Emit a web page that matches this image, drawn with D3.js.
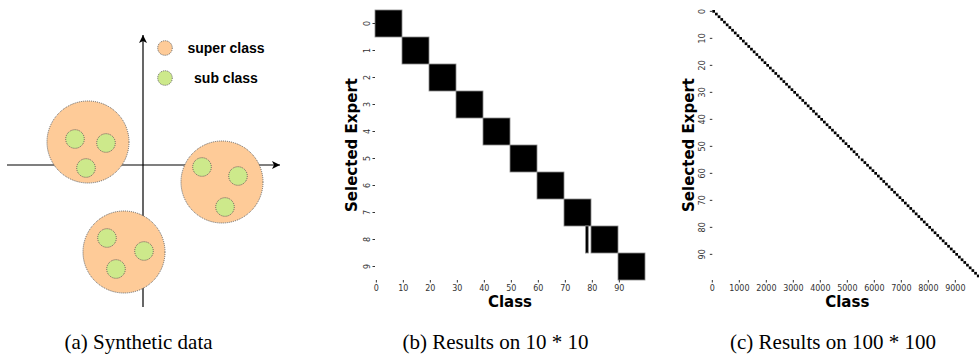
<!DOCTYPE html>
<html>
<head>
<meta charset="utf-8">
<script src="https://cdn.jsdelivr.net/npm/d3@7"></script>
<style>
  body { margin: 0; background: #fff; }
  svg { display: block; }
  .tick text { font-family: "DejaVu Sans", sans-serif; font-size: 8px; fill: #333; }
  .tick line { stroke: #333; }
  .axlabel { font-family: "DejaVu Sans", sans-serif; font-weight: bold; font-size: 15px; fill: #000; }
  .caption { font-family: "Liberation Serif", "Times New Roman", serif; font-size: 21px; fill: #000; }
</style>
</head>
<body>
<svg width="979" height="356"></svg>
<script>
// (a) synthetic data, diagram units (origin = axes crossing, y up)
const superCenters = [[-55, 23], [79, -17], [-19, -87]];
const subCenters = [
  [-68, 26], [-37, 22], [-57, -3],
  [59, -2], [95, -11], [82, -42],
  [-36, -73], [1, -86], [-27, -104]
];
const legendItems = ["super class", "sub class"];

// (b) 10 experts x 100 classes: [expert, firstClass, lastClass]
const experts10 = [0, 1, 2, 3, 4, 5, 6, 7, 8, 9];
const blocks10 = [
  [0, 0, 9], [1, 10, 19], [2, 20, 29], [3, 30, 39], [4, 40, 49],
  [5, 50, 59], [6, 60, 69], [7, 70, 79], [8, 78, 78], [8, 80, 89], [9, 90, 99]
];
const xTicks10 = [0, 10, 20, 30, 40, 50, 60, 70, 80, 90];

// (c) 100 experts x 10000 classes: first class of each expert's block
const rowStart100 = [
  0, 100, 200, 300, 400, 500, 600, 700, 800, 900,
  1000, 1100, 1200, 1300, 1400, 1500, 1600, 1700, 1800, 1900,
  2000, 2100, 2200, 2300, 2400, 2500, 2600, 2700, 2800, 2900,
  3000, 3100, 3200, 3300, 3400, 3500, 3600, 3700, 3800, 3900,
  4000, 4100, 4200, 4300, 4400, 4500, 4600, 4700, 4800, 4900,
  5000, 5100, 5200, 5300, 5400, 5500, 5600, 5700, 5800, 5900,
  6000, 6100, 6200, 6300, 6400, 6500, 6600, 6700, 6800, 6900,
  7000, 7100, 7200, 7300, 7400, 7500, 7600, 7700, 7800, 7900,
  8000, 8100, 8200, 8300, 8400, 8500, 8600, 8700, 8800, 8900,
  9000, 9100, 9200, 9300, 9400, 9500, 9600, 9700, 9800, 9900
];
const rowEnd100 = rowStart100.map((s, i) => i === 54 ? 5460 : s + 99);
const yTicks100 = [0, 10, 20, 30, 40, 50, 60, 70, 80, 90];
const xTicks100 = [0, 1000, 2000, 3000, 4000, 5000, 6000, 7000, 8000, 9000];

const captions = ["(a) Synthetic data", "(b) Results on 10 * 10", "(c) Results on 100 * 100"];

const svg = d3.select("svg");

// ---------- panel (a)
const ax = d3.scaleLinear().domain([-136, 137]).range([7, 280]);
const ay = d3.scaleLinear().domain([-142, 130]).range([307, 35]);
const pa = svg.append("g");

const defs = svg.append("defs");
defs.append("marker")
  .attr("id", "arrow")
  .attr("viewBox", "0 0 10 10")
  .attr("refX", 10).attr("refY", 5)
  .attr("markerWidth", 8).attr("markerHeight", 8)
  .attr("markerUnits", "userSpaceOnUse")
  .attr("orient", "auto")
  .append("path").attr("d", "M0,0 L10,5 L0,10 L2.5,5 z").attr("fill", "#000");

pa.append("line")
  .attr("x1", ax(-136)).attr("y1", ay(0)).attr("x2", ax(137)).attr("y2", ay(0))
  .attr("stroke", "#000").attr("stroke-width", 1.2).attr("marker-end", "url(#arrow)");
pa.append("line")
  .attr("x1", ax(0)).attr("y1", ay(-142)).attr("x2", ax(0)).attr("y2", ay(130))
  .attr("stroke", "#000").attr("stroke-width", 1.2).attr("marker-end", "url(#arrow)");

const superFill = "#fecb98", subFill = "#cde98b";
pa.selectAll(".super").data(superCenters).enter().append("circle")
  .attr("class", "super")
  .attr("cx", d => ax(d[0])).attr("cy", d => ay(d[1])).attr("r", 41)
  .attr("fill", superFill).attr("stroke", "#555").attr("stroke-width", 0.9)
  .attr("stroke-dasharray", "1,1");
pa.selectAll(".sub").data(subCenters).enter().append("circle")
  .attr("class", "sub")
  .attr("cx", d => ax(d[0])).attr("cy", d => ay(d[1])).attr("r", 9.3)
  .attr("fill", subFill).attr("stroke", "#555").attr("stroke-width", 0.9)
  .attr("stroke-dasharray", "1,1");

const leg = pa.selectAll(".leg").data(legendItems).enter().append("g")
  .attr("transform", (d, i) => "translate(0," + (48 + i * 30) + ")");
leg.append("circle")
  .attr("cx", 165).attr("r", 7.3)
  .attr("fill", (d, i) => i === 0 ? superFill : subFill)
  .attr("stroke", "#555").attr("stroke-width", 0.9).attr("stroke-dasharray", "1,1");
leg.append("text")
  .attr("x", 226).attr("y", 5)
  .attr("text-anchor", "middle")
  .style("font-family", "'Liberation Sans', Arial, sans-serif")
  .style("font-weight", "bold").style("font-size", "14px")
  .text(d => d);

// ---------- heatmap helper
function heatmap(opts) {
  const g = svg.append("g");
  const x = d3.scaleLinear().domain([0, opts.nClass]).range([opts.left, opts.left + 270]);
  const y = d3.scaleBand().domain(d3.range(opts.nExpert)).range([10, 280]);

  g.selectAll("rect").data(opts.blocks).enter().append("rect")
    .attr("x", d => x(d[1]))
    .attr("y", d => y(d[0]))
    .attr("width", d => x(d[2] + 1) - x(d[1]))
    .attr("height", y.bandwidth())
    .attr("fill", "#000")
    .attr("stroke", opts.edge ? "#888" : "none")
    .attr("stroke-width", opts.edge ? 0.8 : 0);

  const xa = g.append("g")
    .attr("transform", "translate(0,280)")
    .call(d3.axisBottom(x).tickValues(opts.xTicks).tickSize(2.5).tickPadding(2.5)
      .tickFormat(d3.format("d")));
  xa.selectAll(".tick").attr("transform", d => "translate(" + x(d + 0.5) + ",0)");
  xa.select(".domain").remove();

  const ya = g.append("g")
    .attr("transform", "translate(" + opts.left + ",0)")
    .call(d3.axisLeft(y).tickValues(opts.yTicks).tickSize(2.5));
  ya.select(".domain").remove();
  ya.selectAll(".tick text")
    .attr("x", 0).attr("dy", null)
    .attr("y", -opts.yLabelOffset)
    .attr("text-anchor", "middle")
    .attr("dominant-baseline", "central")
    .attr("transform", "rotate(-90)");

  g.append("text").attr("class", "axlabel")
    .attr("x", opts.left + 135).attr("y", 307)
    .attr("text-anchor", "middle").text("Class");
  g.append("text").attr("class", "axlabel")
    .attr("transform", "translate(" + opts.ylabX + ",145) rotate(-90)")
    .attr("text-anchor", "middle").attr("dominant-baseline", "central")
    .text("Selected Expert");
}

// ---------- panel (b)
heatmap({
  left: 375, nClass: 100, nExpert: 10,
  blocks: blocks10, xTicks: xTicks10, yTicks: experts10,
  yLabelOffset: 7.3, ylabX: 352, edge: true
});

// ---------- panel (c)
heatmap({
  left: 712.3, nClass: 10000, nExpert: 100,
  blocks: rowStart100.map((s, i) => [i, s, rowEnd100[i]]),
  xTicks: xTicks100, yTicks: yTicks100,
  yLabelOffset: 9.6, ylabX: 689, edge: false
});

// ---------- captions
svg.selectAll(".caption").data(captions).enter().append("text")
  .attr("class", "caption")
  .attr("x", (d, i) => [138.5, 495.5, 833][i])
  .attr("y", 349)
  .attr("text-anchor", "middle")
  .text(d => d);
</script>
</body>
</html>
